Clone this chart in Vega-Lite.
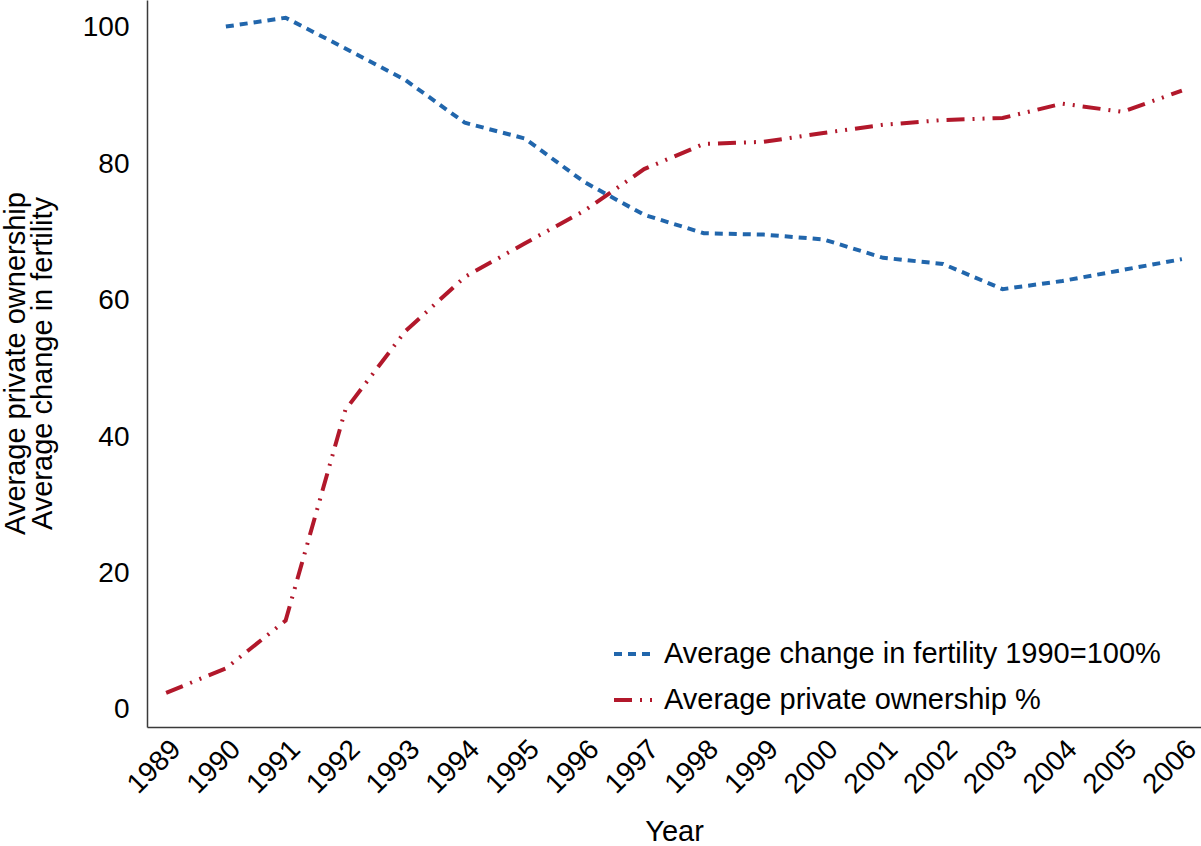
{
  "$schema": "https://vega.github.io/schema/vega-lite/v6.json",
  "width": 1054,
  "height": 727,
  "autosize": {"type": "none"},
  "padding": {"left": 147, "top": 0, "right": 0, "bottom": 119},
  "background": "white",
  "config": {
    "view": {"stroke": null},
    "font": "Liberation Sans",
    "axis": {"grid": false, "ticks": false, "domainColor": "#3a3a3a", "domainWidth": 1.5, "labelColor": "black", "titleColor": "black", "titleFontWeight": "normal", "labelFont": "Liberation Sans", "titleFont": "Liberation Sans"},
    "legend": {"labelFont": "Liberation Sans"}
  },
  "data": {
    "values": [
      {"year": 1990, "series": "Average change in fertility 1990=100%", "value": 100.2},
      {"year": 1991, "series": "Average change in fertility 1990=100%", "value": 101.5},
      {"year": 1992, "series": "Average change in fertility 1990=100%", "value": 97.0},
      {"year": 1993, "series": "Average change in fertility 1990=100%", "value": 92.4},
      {"year": 1994, "series": "Average change in fertility 1990=100%", "value": 86.1},
      {"year": 1995, "series": "Average change in fertility 1990=100%", "value": 83.8},
      {"year": 1996, "series": "Average change in fertility 1990=100%", "value": 77.4},
      {"year": 1997, "series": "Average change in fertility 1990=100%", "value": 72.6},
      {"year": 1998, "series": "Average change in fertility 1990=100%", "value": 69.9},
      {"year": 1999, "series": "Average change in fertility 1990=100%", "value": 69.7},
      {"year": 2000, "series": "Average change in fertility 1990=100%", "value": 69.0},
      {"year": 2001, "series": "Average change in fertility 1990=100%", "value": 66.3},
      {"year": 2002, "series": "Average change in fertility 1990=100%", "value": 65.4},
      {"year": 2003, "series": "Average change in fertility 1990=100%", "value": 61.7},
      {"year": 2004, "series": "Average change in fertility 1990=100%", "value": 62.9},
      {"year": 2005, "series": "Average change in fertility 1990=100%", "value": 64.5},
      {"year": 2006, "series": "Average change in fertility 1990=100%", "value": 66.1},
      {"year": 1989, "series": "Average private ownership %", "value": 2.5},
      {"year": 1990, "series": "Average private ownership %", "value": 6.1},
      {"year": 1991, "series": "Average private ownership %", "value": 13.1},
      {"year": 1992, "series": "Average private ownership %", "value": 44.0},
      {"year": 1993, "series": "Average private ownership %", "value": 55.5},
      {"year": 1994, "series": "Average private ownership %", "value": 63.5},
      {"year": 1995, "series": "Average private ownership %", "value": 68.4},
      {"year": 1996, "series": "Average private ownership %", "value": 73.2},
      {"year": 1997, "series": "Average private ownership %", "value": 79.3},
      {"year": 1998, "series": "Average private ownership %", "value": 83.0},
      {"year": 1999, "series": "Average private ownership %", "value": 83.3},
      {"year": 2000, "series": "Average private ownership %", "value": 84.6},
      {"year": 2001, "series": "Average private ownership %", "value": 85.8},
      {"year": 2002, "series": "Average private ownership %", "value": 86.5},
      {"year": 2003, "series": "Average private ownership %", "value": 86.8},
      {"year": 2004, "series": "Average private ownership %", "value": 88.9},
      {"year": 2005, "series": "Average private ownership %", "value": 87.7},
      {"year": 2006, "series": "Average private ownership %", "value": 90.8}
    ]
  },
  "mark": {"type": "line", "strokeWidth": 4, "strokeCap": "butt", "interpolate": "linear"},
  "encoding": {
    "x": {
      "field": "year", "type": "quantitative",
      "scale": {"domain": [1988.68, 2006.32], "nice": false, "zero": false},
      "axis": {
        "title": "Year", "titleFontSize": 29, "titleY": 113, "titleBaseline": "alphabetic",
        "values": [1989,1990,1991,1992,1993,1994,1995,1996,1997,1998,1999,2000,2001,2002,2003,2004,2005,2006],
        "format": "d", "labelFontSize": 28, "labelAngle": -45, "labelAlign": "right", "labelBaseline": "top", "labelPadding": 8, "labelOverlap": false, "labelBound": false, "labelFlush": false
      }
    },
    "y": {
      "field": "value", "type": "quantitative",
      "scale": {"domain": [-2.5, 104.1], "nice": false, "zero": false},
      "axis": {
        "title": ["Average private ownership", "Average change in fertility"],
        "titleFontSize": 29, "titleLineHeight": 27, "titleX": -146, "titleY": 363, "titleAngle": -90, "titleAlign": "center", "titleBaseline": "top",
        "values": [0, 20, 40, 60, 80, 100], "labelFontSize": 28, "labelPadding": 18
      }
    },
    "color": {
      "field": "series", "type": "nominal",
      "scale": {"domain": ["Average change in fertility 1990=100%", "Average private ownership %"], "range": ["#2166ac", "#b2182b"]},
      "legend": {"title": null, "orient": "none", "legendX": 465, "legendY": 633, "symbolType": "stroke", "symbolSize": 1444, "symbolStrokeWidth": 4, "labelFontSize": 29, "labelLimit": 0, "labelColor": "black", "rowPadding": 10, "labelOffset": 10}
    },
    "strokeDash": {
      "field": "series", "type": "nominal",
      "scale": {"domain": ["Average change in fertility 1990=100%", "Average private ownership %"], "range": [[8, 6], [18, 8, 2, 8, 2, 8]]},
      "legend": {"title": null, "orient": "none", "legendX": 465, "legendY": 633, "symbolType": "stroke", "symbolSize": 1444, "symbolStrokeWidth": 4, "labelFontSize": 29, "labelLimit": 0, "labelColor": "black", "rowPadding": 10, "labelOffset": 10}
    }
  }
}
